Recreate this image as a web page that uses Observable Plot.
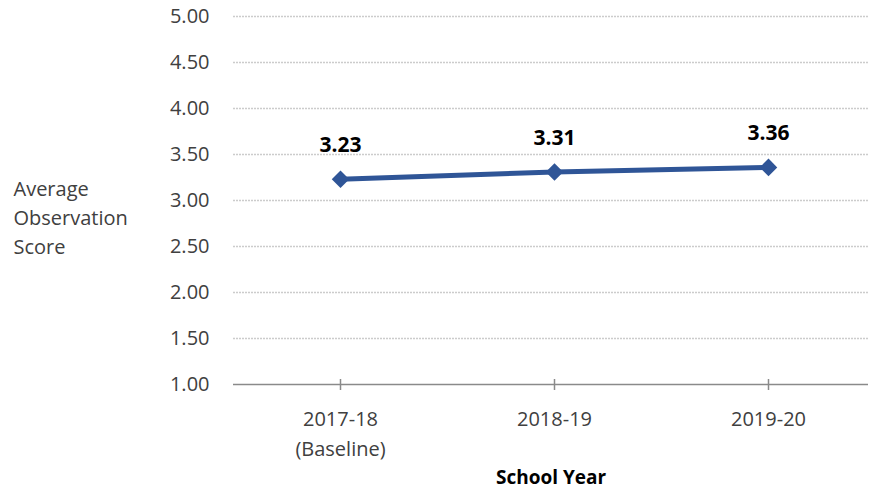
<!DOCTYPE html>
<html>
<head>
<meta charset="utf-8">
<script src="https://cdn.jsdelivr.net/npm/d3@7"></script>
<script src="https://cdn.jsdelivr.net/npm/@observablehq/plot@0.6"></script>
<style>
  html, body { margin: 0; padding: 0; background: #fff; }
  #chart svg { display: block; }
</style>
</head>
<body>
<div id="chart"></div>
<script>
const years = ["2017-18", "2018-19", "2019-20"];
const yearLabels = ["2017-18\n(Baseline)", "2018-19", "2019-20"];
const scores = [3.23, 3.31, 3.36];
const yTicks = [1.0, 1.5, 2.0, 2.5, 3.0, 3.5, 4.0, 4.5, 5.0];
const yTitle = "Average\nObservation\nScore";
const xTitle = "School Year";

const data = years.map((y, i) => ({year: y, score: scores[i]}));
const labelOf = new Map(years.map((y, i) => [y, yearLabels[i]]));

const font = "'Open Sans', Lato, sans-serif";
const blue = "#2F5597";

const chart = Plot.plot({
  width: 870,
  height: 489,
  marginLeft: 233,
  marginRight: 2,
  marginTop: 16,
  marginBottom: 105,
  style: {fontFamily: font, fontSize: "20px", color: "#404040", background: "#fff"},
  x: {type: "point", domain: years, range: [340, 768], padding: 0},
  y: {domain: [1, 5], ticks: yTicks},
  marks: [
    Plot.gridY(yTicks.filter(d => d > 1), {stroke: "#cccccc", strokeOpacity: 1, strokeWidth: 1.5, strokeDasharray: "2,1"}),
    Plot.axisY({ticks: yTicks, tickSize: 0, tickPadding: 24, tickFormat: d3.format(".2f"), label: null, fill: "#404040", fontSize: 20}),
    Plot.ruleY([1], {stroke: "#8a8a8a", strokeWidth: 1.5}),
    Plot.ruleX(years, {x: d => d, y1: 1, y2: 1, insetTop: -5, insetBottom: -6, stroke: "#8a8a8a", strokeWidth: 1.5}),
    Plot.axisX({tickSize: 0, tickPadding: 20, tickFormat: d => labelOf.get(d), label: null, lineHeight: 1.5, fill: "#404040", fontSize: 20}),
    Plot.line(data, {x: "year", y: "score", stroke: blue, strokeWidth: 5}),
    Plot.dot(data, {x: "year", y: "score", symbol: "square", rotate: 45, r: 7, fill: blue, stroke: "none"}),
    Plot.text(data, {x: "year", y: "score", text: d => d3.format(".2f")(d.score), dy: -34, fontWeight: "bold", fontSize: 21, fill: "#000", lineAnchor: "middle"}),
    Plot.text([yTitle], {frameAnchor: "left", text: d => d, dx: -220, dy: 15, textAnchor: "start", lineAnchor: "middle", lineHeight: 1.45, fontSize: 20, fill: "#404040"}),
    Plot.text([xTitle], {frameAnchor: "bottom", text: d => d, dy: 93, fontWeight: "bold", fontSize: 19, fill: "#000", lineAnchor: "middle"})
  ]
});
document.getElementById("chart").appendChild(chart);
</script>
</body>
</html>
